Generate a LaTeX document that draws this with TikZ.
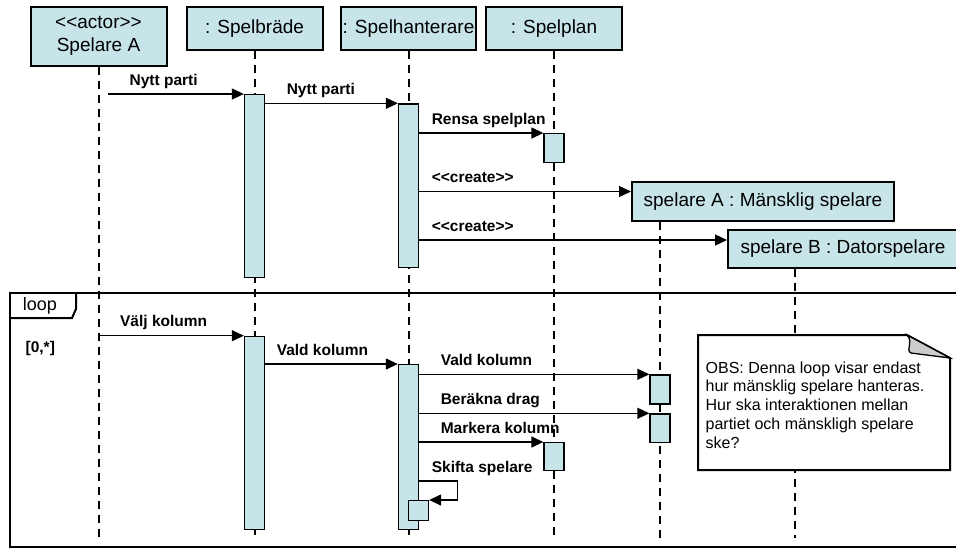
\documentclass[tikz,border=0pt]{standalone}
\usepackage{fontspec}
\setmainfont{Liberation Sans}
\usetikzlibrary{arrows.meta,positioning}

\definecolor{objfill}{RGB}{199,229,233}
\definecolor{foldgray}{RGB}{204,204,204}
\newcommand{\stereo}[1]{<\kern0pt<#1>\kern0pt>}

\tikzset{every picture/.style={line width=1.3pt}}
\tikzset{
  obj/.style={draw,line width=2pt,fill=objfill,inner sep=0pt,anchor=north west,align=center,font=\fontsize{19}{23}\selectfont},
  act/.style={draw,line width=1.3pt,fill=objfill,minimum width=20pt,inner sep=0pt,anchor=north},
  lifeline/.style={line width=2pt,dash pattern=on 8pt off 6pt},
  msg/.style={line width=1.3pt,-{Triangle[length=12pt,width=11pt]}},
  lbl/.style={pos=0,anchor=base west,inner sep=0pt,yshift=9pt,font=\bfseries\fontsize{15.5}{18}\selectfont},
}

\begin{document}
\begin{tikzpicture}[x=1pt,y=-1pt]
\useasboundingbox (0,0) rectangle (956,550);
\clip (0,0) rectangle (956,550);

\node [obj,minimum width=136pt,minimum height=58.5pt](actor) at (29.5,6) {\stereo{actor}\\Spelare A};
\node [obj,minimum width=136pt,minimum height=43pt](brd) at (185.5,6) {: Spelbräde};
\node [obj,minimum width=135pt,minimum height=43pt](hant) at (340,6) {: Spelhanterare};
\node [obj,minimum width=136pt,minimum height=43pt](plan) at (485,6) {: Spelplan};
\node [obj,minimum width=262pt,minimum height=39pt](spA) at (631,181) {spelare A : Mänsklig spelare};
\node [obj,minimum width=230pt,minimum height=38pt](spB) at (727,229) {spelare B : Datorspelare};

\coordinate (llA) at ([xshift=29pt]spA.south west);
\coordinate (llB) at ([xshift=68pt]spB.south west);
\foreach \n in {actor.south,brd.south,hant.south,plan.south,llA,llB}
  \draw[lifeline] (\n) -- (\n |- 0,538);

\draw[line width=2pt] (960,293) -- (10,293) -- (10,547) -- (960,547);
\draw[line width=2pt] (76,293) -- (76,309) -- (72,318) -- (10,318);
\node [inner sep=0pt,font=\fontsize{18}{20}\selectfont](looptag) at (40,306) {loop};
\node [inner sep=0pt,anchor=west,font=\bfseries\fontsize{15.5}{18}\selectfont](guard) at (25,348) {[0,*]};

\node [act,minimum height=183pt](sb1) at (brd.south |- 0,94) {};
\node [act,minimum height=163.7pt](sh1) at (hant.south |- 0,103.3) {};
\node [act,minimum height=28.5pt](sp1) at (plan.south |- 0,133) {};
\node [act,minimum height=193.3pt](sb2) at (brd.south |- 0,335.7) {};
\node [act,minimum height=165pt](sh2) at (hant.south |- 0,364) {};
\node [act,minimum height=29pt](ma1) at (llA |- 0,374.3) {};
\node [act,minimum height=28.4pt](ma2) at (llA |- 0,413.3) {};
\node [act,minimum height=28pt](sp2) at (plan.south |- 0,442) {};
\node [act,minimum height=20pt](sh3) at ([xshift=10pt]hant.south |- 0,500) {};

\coordinate (cA) at ([yshift=10pt]spA.west);
\coordinate (cB) at ([yshift=9pt]spB.west);

\draw[msg] ([xshift=9.5pt]actor.south |- sb1.north) -- (sb1.north west) node[lbl,xshift=21pt] {Nytt parti};
\draw[msg] (sb1.east |- sh1.north) -- (sh1.north west) node[lbl,xshift=21pt] {Nytt parti};
\draw[msg] (sh1.east |- sp1.north) -- (sp1.north west) node[lbl,xshift=12pt] {Rensa spelplan};
\draw[msg] (sh1.east |- cA) -- (cA) node[lbl,xshift=12pt] {\stereo{create}};
\draw[msg] (sh1.east |- cB) -- (cB) node[lbl,xshift=12pt] {\stereo{create}};

\draw[msg] (actor.south |- sb2.north) -- (sb2.north west) node[lbl,xshift=21pt] {Välj kolumn};
\draw[msg] (sb2.east |- sh2.north) -- (sh2.north west) node[lbl,xshift=11pt] {Vald kolumn};
\draw[msg] (sh2.east |- ma1.north) -- (ma1.north west) node[lbl,xshift=21pt] {Vald kolumn};
\draw[msg] (sh2.east |- ma2.north) -- (ma2.north west) node[lbl,xshift=21pt] {Beräkna drag};
\draw[msg] (sh2.east |- sp2.north) -- (sp2.north west) node[lbl,xshift=21pt] {Markera kolumn};
\draw[msg] (sh2.east |- 0,481) -- ++(38.5,0) node[lbl,xshift=12pt] {Skifta spelare} |- (sh3.north east);

\draw[line width=2pt,fill=white] (698,335) -- (907,335) -- (950,358) -- (950,470) -- (698,470) -- cycle;
\draw[line width=1.3pt,fill=foldgray] (907,335) .. controls (914,342) and (905,350) .. (911,353) -- (950,358) -- cycle;
\node [anchor=north west,inner sep=0pt,align=left,font=\fontsize{16}{18.7}\selectfont](obs) at (705,361) {OBS: Denna loop visar endast\\hur mänsklig spelare hanteras.\\Hur ska interaktionen mellan\\partiet och mänskligh spelare\\ske?};
\end{tikzpicture}
\end{document}
